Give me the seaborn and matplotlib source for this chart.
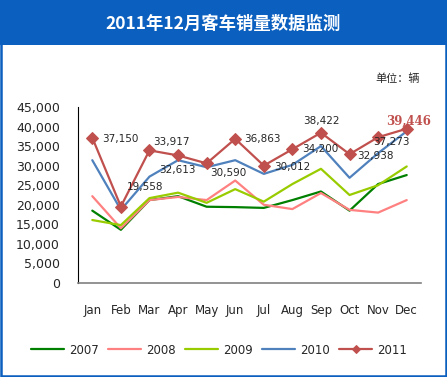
import pandas as pd
import numpy as np
import matplotlib
matplotlib.use('Agg')
import matplotlib.pyplot as plt
import seaborn as sns
from matplotlib.patches import Rectangle
from matplotlib.ticker import FuncFormatter, FixedLocator

# Monatliche Absatzdaten Busse (Einheiten: Fahrzeuge)
months = ['Jan', 'Feb', 'Mar', 'Apr', 'May', 'Jun', 'Jul', 'Aug', 'Sep', 'Oct', 'Nov', 'Dec']
sales_2007 = [18500, 13600, 21200, 22200, 19500, 19400, 19200, 21200, 23400, 18500, 25300, 27600]
sales_2008 = [22200, 14000, 21200, 22000, 21200, 26200, 20000, 18900, 23000, 18700, 18000, 21200]
sales_2009 = [16100, 14800, 21700, 23100, 20500, 24000, 20800, 25300, 29200, 22500, 25000, 29800]
sales_2010 = [31400, 18700, 27200, 31400, 29600, 31400, 27900, 30200, 35000, 26900, 33200, 38800]
sales_2011 = [37150, 19558, 33917, 32613, 30590, 36863, 30012, 34200, 38422, 32938, 37273, 39446]
years = ['2007', '2008', '2009', '2010', '2011']
colors = ['#008000', '#ff8080', '#99cc00', '#4f81bd', '#c0504d']

# Label-Versatz in Pixeln (dx, dy) fuer 2011
label_offsets = [(10, -1), (6, 20), (4, 8), (-19, -15), (4, -10), (9, 0),
                 (10, -1), (10, 0), (0, 12), (8, -2), (-5, -5), (-21, 7)]

df = pd.DataFrame({
    'month': list(range(12)) * 5,
    'sales': sales_2007 + sales_2008 + sales_2009 + sales_2010 + sales_2011,
    'year': [y for y in years for _ in range(12)],
})

sns.set_style('white')
plt.rcParams['font.family'] = ['DejaVu Sans', 'Noto Sans CJK SC']

W, H = 447, 377
fig = plt.figure(figsize=(W / 100, H / 100), dpi=100)
fig.patch.set_facecolor('white')

# Titelleiste und Rahmen
blue = '#0b5fbf'
fig.patches.append(Rectangle((0, 1 - 45 / H), 1, 45 / H, transform=fig.transFigure,
                             facecolor=blue, edgecolor='none', zorder=0))
fig.patches.append(Rectangle((1 / W, 1 / H), 1 - 2.5 / W, 1 - 2.5 / H, transform=fig.transFigure,
                             facecolor='none', edgecolor=blue, linewidth=1.8, zorder=5))
fig.text(223 / W, 1 - 24 / H, '2011年12月客车销量数据监测', color='white', fontsize=12.5,
         fontweight='bold', ha='center', va='center', family=['Noto Sans CJK SC', 'DejaVu Sans'])
fig.text(398 / W, 1 - 79 / H, '单位：辆', fontsize=8, ha='center', va='center',
         family=['Noto Sans CJK SC', 'DejaVu Sans'])

ax = fig.add_axes([78 / W, (H - 283) / H, 343 / W, 176 / H])

for yr, col in zip(years, colors):
    sub = df[df['year'] == yr]
    if yr == '2011':
        sns.lineplot(data=sub, x='month', y='sales', ax=ax, color=col, linewidth=1.6,
                     marker='D', markersize=6, markeredgecolor=col, label=yr, sort=False)
    else:
        sns.lineplot(data=sub, x='month', y='sales', ax=ax, color=col, linewidth=1.6,
                     label=yr, sort=False)

# Datenbeschriftungen
for i, v in enumerate(sales_2011):
    dx, dy = label_offsets[i]
    if i == 11:
        ax.annotate(f'{v:,}', (i, v), xytext=(dx, dy), textcoords='offset pixels',
                    fontsize=8.5, fontweight='bold', color='#c0504d', family='DejaVu Serif',
                    ha='left', va='center')
    elif i == 8:
        ax.annotate(f'{v:,}', (i, v), xytext=(dx, dy), textcoords='offset pixels',
                    fontsize=7.5, ha='center', va='center')
    else:
        ax.annotate(f'{v:,}', (i, v), xytext=(dx, dy), textcoords='offset pixels',
                    fontsize=7.5, ha='left', va='center')

ax.set_xlim(-0.5, 11.5)
ax.set_ylim(0, 45000)
ax.set_yticks(np.arange(0, 45001, 5000))
ax.yaxis.set_major_formatter(FuncFormatter(lambda v, p: f'{int(v):,}'))
ax.xaxis.set_major_locator(FixedLocator(np.arange(-0.5, 12, 1)))
ax.xaxis.set_minor_locator(FixedLocator(np.arange(12)))
ax.set_xticklabels([])
ax.set_xticklabels(months, minor=True)
ax.tick_params(axis='x', which='major', direction='in', length=4, color='#808080', width=1)
ax.tick_params(axis='x', which='minor', length=0, pad=15, labelsize=8.5)
ax.tick_params(axis='y', direction='in', length=4, color='black', width=1, pad=13, labelsize=9)
ax.set_xlabel('')
ax.set_ylabel('')
sns.despine(ax=ax)
ax.spines['left'].set_color('black')
ax.spines['bottom'].set_color('#808080')
ax.spines['bottom'].set_linewidth(1.2)

ax.legend(loc='center', bbox_to_anchor=(219 / W, 27 / H), bbox_transform=fig.transFigure,
          ncol=5, frameon=False, fontsize=8.5, handlelength=2.8, columnspacing=0.8,
          handletextpad=0.4, markerscale=0.7)

fig.savefig('out.png', dpi=100)
